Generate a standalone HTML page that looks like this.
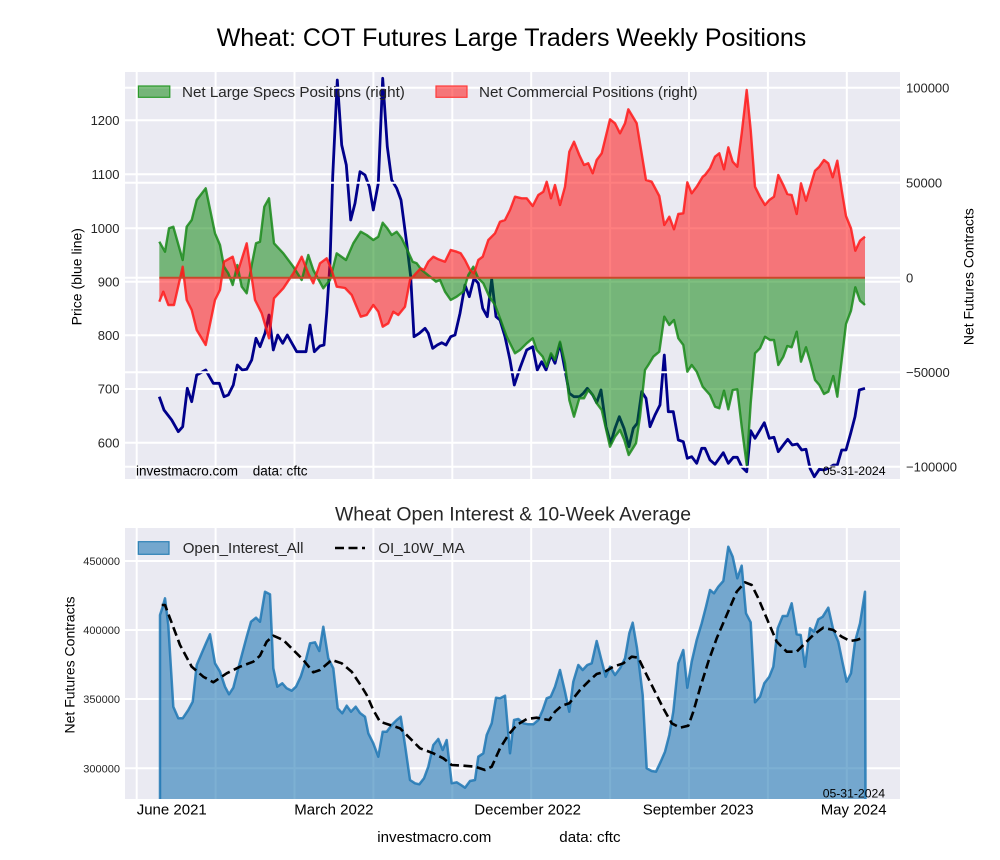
<!DOCTYPE html>
<html><head><meta charset="utf-8"><style>
html,body{margin:0;padding:0;background:#fff;}
svg{display:block;font-family:"Liberation Sans",Arial,sans-serif;}
</style></head><body>
<svg width="1000" height="860" viewBox="0 0 1000 860" xmlns="http://www.w3.org/2000/svg">
<defs>
<clipPath id="c1"><rect x="125" y="72" width="775" height="407"/></clipPath>
<clipPath id="c2"><rect x="125" y="528" width="775" height="271"/></clipPath>
</defs>
<rect width="1000" height="860" fill="#fff"/>
<text x="511.5" y="46" font-size="25" text-anchor="middle" fill="#000">Wheat: COT Futures Large Traders Weekly Positions</text>

<!-- TOP AXES -->
<rect x="125" y="72" width="775" height="407" fill="#EAEAF2"/>
<g stroke="#fff" stroke-width="2">
<line x1="136.7" y1="72" x2="136.7" y2="479"/><line x1="215.6" y1="72" x2="215.6" y2="479"/><line x1="294.5" y1="72" x2="294.5" y2="479"/><line x1="373.4" y1="72" x2="373.4" y2="479"/><line x1="452.3" y1="72" x2="452.3" y2="479"/><line x1="531.2" y1="72" x2="531.2" y2="479"/><line x1="610.1" y1="72" x2="610.1" y2="479"/><line x1="689" y1="72" x2="689" y2="479"/><line x1="767.9" y1="72" x2="767.9" y2="479"/><line x1="846.8" y1="72" x2="846.8" y2="479"/>
<line x1="125" y1="120.3" x2="900" y2="120.3"/><line x1="125" y1="174.3" x2="900" y2="174.3"/><line x1="125" y1="228.3" x2="900" y2="228.3"/><line x1="125" y1="281.7" x2="900" y2="281.7"/><line x1="125" y1="335.3" x2="900" y2="335.3"/><line x1="125" y1="389" x2="900" y2="389"/><line x1="125" y1="442.7" x2="900" y2="442.7"/>
</g>
<g clip-path="url(#c1)">
<polyline fill="none" stroke="#00008B" stroke-width="2.8" stroke-linejoin="round" points="159.3,396.7 164,410 171.7,420 178.3,431.7 182.7,426.7 187.3,388.3 191.7,401.7 196.7,375 205.7,370 213.3,383.3 219.3,383.3 224,396.7 228.3,395 233.3,385 237.3,365 242.3,370 246.7,369.3 251.7,360 256,338.3 260,346.7 265,333.3 269,315 273.3,350 277.7,335 282.7,343.3 287.3,335 296.7,351.7 306,351.7 310,325 314.3,351.7 320,346 324,345 326.7,313.3 330,263.3 332.7,176.7 337.3,80 341.7,145 346.3,165 350.7,220 355,203.3 360,171.7 365,175 369.3,186.7 373.3,210 378.3,183.3 382.7,78.3 387.3,146.7 391.7,180 396.7,188.3 401,200 406.7,243.3 410.7,276.7 414,336.7 419.3,333.3 425,328.3 428.3,333.3 432.7,348.3 437.3,345 441.7,342.7 446,345 450.7,336.7 455,335 460,313.3 465,285 469.3,296.7 474,278.3 478.3,283.3 482.7,308.3 487.3,316.7 491.7,279.3 496,316.7 500,320 505,336.7 510,360 514.3,385 520,368 526.7,350 532.7,346.7 537.3,370 541.7,361.7 546,370 551,355 555,363.3 560,343.3 565,370 569.3,393.3 574,396.7 579.3,396.7 583.3,393.3 587.3,388.3 592.7,395 596.7,402.7 601,390 606,426.7 610.7,443.3 615,428.3 619.3,416.7 624,428.3 629,446.7 633.3,428.3 637.3,423.3 641.7,391.7 646,398.3 650,426.7 655,415 660,405 664.3,355 668.3,411.7 673.3,411.7 678.3,440 683.3,441.7 687.3,458.3 691.7,456.7 696.7,463.3 701.7,448.3 705,448.3 710,460 715,464.3 723.3,452.7 728.3,463.3 733.3,457.3 737.3,457.3 741.7,466.7 746.7,471.7 750.7,430.7 755,438.3 760,430 764.3,422.7 769.3,438.3 774,437.3 778.3,451.7 783.3,445 787.7,439.3 792.3,445 797.3,444 801.7,450 806,449.3 810,468.3 814.3,476.7 819.3,469.3 824,470 828.3,468.3 833.3,465 837.3,465 841.7,450 846,450 850.7,433.3 855,416.7 859.3,390 865,388.3"/>
</g>
<g stroke="#fff" stroke-width="2">
<line x1="125" y1="87.7" x2="900" y2="87.7"/><line x1="125" y1="182.7" x2="900" y2="182.7"/><line x1="125" y1="277.7" x2="900" y2="277.7"/><line x1="125" y1="372.3" x2="900" y2="372.3"/><line x1="125" y1="466.7" x2="900" y2="466.7"/>
</g>
<g clip-path="url(#c1)">
<polygon fill="#008000" fill-opacity="0.5" points="159.3,277.7 159.3,241.7 165,251.7 169,228.3 173.3,226.7 182.7,260 186.7,226.7 191.7,220 196.7,200 205.7,188.3 215,233.3 220,245 224,266.7 228.3,273.3 232.7,285 237.3,265 241.7,286.7 246.7,293.3 251.7,265 256,243.3 260,241.7 264.3,206.7 269,198.3 274,243.3 283.3,253.3 293.3,266.7 301.7,280 308.3,255 313.3,270 323.3,288.3 330,280 336.7,253.3 346,260 353.3,243.3 360.7,231.7 366.7,235 373.3,240 378.3,236.7 382.7,222.7 387.3,228.3 391.7,235 396.7,231.7 401.7,238.3 407.3,250 412.7,261.7 416.7,263.3 421.7,270 430,276.7 436,281.7 440,280 445,291.7 450.7,300 456.7,296.7 463.3,291.7 468.3,275 473.3,266.7 478.3,278.3 483.3,283.3 489.3,296.7 495,305 500,318.3 506.7,336.7 515,353.3 520,350 526.7,343.3 532.7,338.3 536.7,350 542.7,356.7 546.7,366.7 551,353.3 555,360 560,341.7 565,363.3 569.3,400 574,416.7 579.3,398.3 584,398.3 588.3,390 592.7,395 596.7,403.3 601.7,410 610,446.7 615,436.7 620,430 624.3,440 628.7,455 636,443.3 640,416.7 645,370 648.3,365 653.3,356.7 659.3,351.7 664.3,316.7 669.3,325 674,320 678.3,338.3 683.3,345 687.3,371.7 691.7,365 696.7,371.7 702.7,386.7 710,395 715,406.7 719.3,408.3 724,390.7 728.3,409.3 732.7,390 737.3,389.3 741.7,426.7 746.7,465 750.7,403.3 755,353.3 760,348.3 765,336.7 770,340 774,340 778.3,365 783.3,356.7 787.3,346 791.7,347.3 796.7,331.7 801,361.7 806,347.3 810.7,363.3 815,380 819.3,385 824,394 828.3,391.7 833.3,376 837.3,396.7 841.7,360 846,324 851,310.7 855.3,287.3 860,300.7 865,305 865,277.7"/>
<polygon fill="#ff0000" fill-opacity="0.5" points="159.3,277.7 159.3,301.7 163.3,291.7 168.3,305 174,305 182.7,266.7 186.7,300 191.7,310 196.7,330 205.7,345 215,300 220,290 224,261.7 232.7,256.7 237.3,273.3 246.7,243.3 255,300 261.7,313.3 269,338.3 274,298.3 283.3,288.3 293.3,273.3 301.7,256.7 308.3,273.3 313.3,283.3 320,263.3 326.7,258.3 331.7,270 336.7,286.7 345,288 351.7,295 360.7,316.7 366.7,315 373.3,305 378.3,311.7 382.7,326.7 388.3,323.3 393.3,311.7 398.3,315 405,306.7 410,280 416,273.3 420.7,268.3 424,270 428.3,261.7 433.3,256.7 438.3,259.3 445,261.7 450.7,250 456.7,251.7 460.7,253.3 465,260 470,270 474,273.3 478.3,260 482.7,256.7 488.3,240 495,233.3 500,221.7 505,220 510,210 515,196.7 521.7,198.3 526.7,198.3 532.7,206 538.3,195 543.3,191.7 546.7,181.7 551,198.3 555,185 560,205 565,186.7 569.3,151.7 574,141.7 579.3,155 584,165 588.3,163.3 592.7,173.3 596.7,160 601.7,153.3 610,119.3 615,123.3 620,133.3 625,123.3 628.3,109.3 636.7,123.3 646,180 651.7,181.7 659.3,196 664.3,225 669.3,216.7 674,229.3 678.3,214 683.3,213.3 687.3,182.3 691.7,193.3 696.7,186.7 702.7,176.7 705,175 710,168.3 715,156.7 719.3,153.3 724,169.3 728.3,147.3 732.7,161.7 737.3,166.7 741.7,133.3 746.7,90 750.7,130 755,186.7 760,196.7 765,205 769.3,200 774,196.7 778.3,175 783.3,185 787.3,194 791.7,195 796.7,214 801,183.3 806,200.7 810.7,185 815,170.7 819.3,166.7 824,160 828.3,163.3 832.7,177.3 837.3,160.7 841.7,190 846,216 851,228.3 855.3,250.7 860,240.7 865,236.7 865,277.7"/>
<polyline fill="none" stroke="#1a8a1a" stroke-opacity="0.85" stroke-width="2.4" stroke-linejoin="round" points="159.3,241.7 165,251.7 169,228.3 173.3,226.7 182.7,260 186.7,226.7 191.7,220 196.7,200 205.7,188.3 215,233.3 220,245 224,266.7 228.3,273.3 232.7,285 237.3,265 241.7,286.7 246.7,293.3 251.7,265 256,243.3 260,241.7 264.3,206.7 269,198.3 274,243.3 283.3,253.3 293.3,266.7 301.7,280 308.3,255 313.3,270 323.3,288.3 330,280 336.7,253.3 346,260 353.3,243.3 360.7,231.7 366.7,235 373.3,240 378.3,236.7 382.7,222.7 387.3,228.3 391.7,235 396.7,231.7 401.7,238.3 407.3,250 412.7,261.7 416.7,263.3 421.7,270 430,276.7 436,281.7 440,280 445,291.7 450.7,300 456.7,296.7 463.3,291.7 468.3,275 473.3,266.7 478.3,278.3 483.3,283.3 489.3,296.7 495,305 500,318.3 506.7,336.7 515,353.3 520,350 526.7,343.3 532.7,338.3 536.7,350 542.7,356.7 546.7,366.7 551,353.3 555,360 560,341.7 565,363.3 569.3,400 574,416.7 579.3,398.3 584,398.3 588.3,390 592.7,395 596.7,403.3 601.7,410 610,446.7 615,436.7 620,430 624.3,440 628.7,455 636,443.3 640,416.7 645,370 648.3,365 653.3,356.7 659.3,351.7 664.3,316.7 669.3,325 674,320 678.3,338.3 683.3,345 687.3,371.7 691.7,365 696.7,371.7 702.7,386.7 710,395 715,406.7 719.3,408.3 724,390.7 728.3,409.3 732.7,390 737.3,389.3 741.7,426.7 746.7,465 750.7,403.3 755,353.3 760,348.3 765,336.7 770,340 774,340 778.3,365 783.3,356.7 787.3,346 791.7,347.3 796.7,331.7 801,361.7 806,347.3 810.7,363.3 815,380 819.3,385 824,394 828.3,391.7 833.3,376 837.3,396.7 841.7,360 846,324 851,310.7 855.3,287.3 860,300.7 865,305"/>
<polyline fill="none" stroke="#ff1a1a" stroke-opacity="0.85" stroke-width="2.4" stroke-linejoin="round" points="159.3,301.7 163.3,291.7 168.3,305 174,305 182.7,266.7 186.7,300 191.7,310 196.7,330 205.7,345 215,300 220,290 224,261.7 232.7,256.7 237.3,273.3 246.7,243.3 255,300 261.7,313.3 269,338.3 274,298.3 283.3,288.3 293.3,273.3 301.7,256.7 308.3,273.3 313.3,283.3 320,263.3 326.7,258.3 331.7,270 336.7,286.7 345,288 351.7,295 360.7,316.7 366.7,315 373.3,305 378.3,311.7 382.7,326.7 388.3,323.3 393.3,311.7 398.3,315 405,306.7 410,280 416,273.3 420.7,268.3 424,270 428.3,261.7 433.3,256.7 438.3,259.3 445,261.7 450.7,250 456.7,251.7 460.7,253.3 465,260 470,270 474,273.3 478.3,260 482.7,256.7 488.3,240 495,233.3 500,221.7 505,220 510,210 515,196.7 521.7,198.3 526.7,198.3 532.7,206 538.3,195 543.3,191.7 546.7,181.7 551,198.3 555,185 560,205 565,186.7 569.3,151.7 574,141.7 579.3,155 584,165 588.3,163.3 592.7,173.3 596.7,160 601.7,153.3 610,119.3 615,123.3 620,133.3 625,123.3 628.3,109.3 636.7,123.3 646,180 651.7,181.7 659.3,196 664.3,225 669.3,216.7 674,229.3 678.3,214 683.3,213.3 687.3,182.3 691.7,193.3 696.7,186.7 702.7,176.7 705,175 710,168.3 715,156.7 719.3,153.3 724,169.3 728.3,147.3 732.7,161.7 737.3,166.7 741.7,133.3 746.7,90 750.7,130 755,186.7 760,196.7 765,205 769.3,200 774,196.7 778.3,175 783.3,185 787.3,194 791.7,195 796.7,214 801,183.3 806,200.7 810.7,185 815,170.7 819.3,166.7 824,160 828.3,163.3 832.7,177.3 837.3,160.7 841.7,190 846,216 851,228.3 855.3,250.7 860,240.7 865,236.7"/>
<line x1="159.3" y1="277.7" x2="865" y2="277.7" stroke="#cc472b" stroke-width="2"/>
</g>
<!-- top legend -->
<rect x="138.4" y="86" width="31.4" height="11.3" fill="#008000" fill-opacity="0.5" stroke="#2a9a2a" stroke-width="1.2"/>
<text x="182" y="97" font-size="15.2" fill="#262626">Net Large Specs Positions (right)</text>
<rect x="436" y="86" width="31" height="11.3" fill="#ff0000" fill-opacity="0.5" stroke="#ff3b3b" stroke-width="1.2"/>
<text x="479" y="97" font-size="15.2" fill="#262626">Net Commercial Positions (right)</text>
<!-- top axis labels -->
<g font-size="13" fill="#262626" text-anchor="end">
<text x="119.5" y="124.9">1200</text><text x="119.5" y="178.9">1100</text><text x="119.5" y="232.9">1000</text><text x="119.5" y="286.3">900</text><text x="119.5" y="339.9">800</text><text x="119.5" y="393.6">700</text><text x="119.5" y="447.3">600</text>
</g>
<g font-size="13" fill="#262626">
<text x="906" y="92.3">100000</text><text x="906" y="187.3">50000</text><text x="906" y="282.3">0</text><text x="906" y="376.9">−50000</text><text x="906" y="471.3">−100000</text>
</g>
<text transform="translate(76.7,276.7) rotate(-90)" y="5" font-size="14" fill="#000" text-anchor="middle">Price (blue line)</text>
<text transform="translate(968.3,276.7) rotate(-90)" y="5" font-size="14" fill="#000" text-anchor="middle">Net Futures Contracts</text>
<text x="136" y="475.5" font-size="13.5" fill="#000">investmacro.com</text>
<text x="252.7" y="475.5" font-size="13.5" fill="#000">data: cftc</text>
<text x="822.7" y="475.2" font-size="12.3" fill="#000">05-31-2024</text>

<!-- BOTTOM AXES -->
<text x="513" y="520.3" font-size="19.4" text-anchor="middle" fill="#262626">Wheat Open Interest &amp; 10-Week Average</text>
<rect x="125" y="528" width="775" height="271" fill="#EAEAF2"/>
<g stroke="#fff" stroke-width="2">
<line x1="136.7" y1="528" x2="136.7" y2="799"/><line x1="215.6" y1="528" x2="215.6" y2="799"/><line x1="294.5" y1="528" x2="294.5" y2="799"/><line x1="373.4" y1="528" x2="373.4" y2="799"/><line x1="452.3" y1="528" x2="452.3" y2="799"/><line x1="531.2" y1="528" x2="531.2" y2="799"/><line x1="610.1" y1="528" x2="610.1" y2="799"/><line x1="689" y1="528" x2="689" y2="799"/><line x1="767.9" y1="528" x2="767.9" y2="799"/><line x1="846.8" y1="528" x2="846.8" y2="799"/>
<line x1="125" y1="561" x2="900" y2="561"/><line x1="125" y1="630" x2="900" y2="630"/><line x1="125" y1="699" x2="900" y2="699"/><line x1="125" y1="768.3" x2="900" y2="768.3"/>
</g>
<g clip-path="url(#c2)">
<polygon fill="#1f77b4" fill-opacity="0.58" points="160,800 160,615 162.7,606.7 165,598.3 168.3,625 173.3,706.7 178.3,718.3 182.7,718.3 188.3,710 192.7,701.7 196.7,665 201.7,653.3 206,643.3 210,634.3 215,663.3 220,671.7 225,686.7 229,694.3 233.3,687.7 238.3,668.3 242.7,651.7 246.7,636.7 251,621.7 256,617.7 260,621.7 265,591.7 270,594.3 273.3,668.3 277.3,686.7 282.3,683.3 286.7,688.3 291.7,690.7 296,686.7 300.7,676.7 305,663.3 310,643.3 315,642.3 319.3,651 323.3,626.7 328.3,658.3 333.3,668.3 337.7,708.3 342.3,713.3 346.7,705.7 351,711.7 355.7,706.7 360,713 365,716.7 368.3,733.3 373.3,743.3 378.3,756.7 382.7,731.7 386.7,731.7 391.7,725 396.7,720 400.7,716.7 405,745 410,780 415,783.3 419.3,784.3 424,778.3 428.3,766.7 433.3,745 438.3,739 442.7,750 446.7,740 451.7,783.3 456.7,782.3 461,785 465,787.7 470,781 475,780 478.3,756.7 483.3,753.3 486.7,735 491.7,723.3 496,697.7 500,698.3 505,695.7 510,753.3 514,720 518.3,719 523.3,723.3 528.3,724.3 533.3,724.3 538.3,720 542.7,710 546.7,698.3 550.7,696.7 555,686.7 560,670 565,691.7 569.3,711.7 573.3,681.7 578.3,665 582.7,670 587.3,665 591.7,663.3 596.7,641 601,658.3 605.7,676.7 610,666.7 615,675 620,668.3 625,658.3 629.3,633.3 632.7,622.7 637,648 642.7,695 646.7,768.3 651.7,771 656,771.7 660.7,761.7 665,751.7 669.3,735 673.3,711.7 678.3,663.3 683.3,650 687.3,687.7 691.7,661.7 696.7,640 701.7,623.3 706,606.7 710,590 714,593.3 718.3,586.7 723.3,581 728.3,546.7 732.7,556.7 737.3,578.3 741.7,565.7 746,613.3 750.7,622.3 755,702.3 760,696.7 764.3,683.3 769.3,676.7 773.3,666.7 777.7,628.3 782.7,616 787.3,616 791.7,603.3 796.7,634.3 800.7,635 805,666.7 810,628.3 814,631.7 818.3,619.3 822.7,616.7 828.3,607.7 833.3,630 838.3,641.7 842.7,663.3 846.7,681.7 851,673.3 855,641.7 860,623.3 865,591.7 865.5,800"/>
<polyline fill="none" stroke="#1f77b4" stroke-opacity="0.85" stroke-width="2.5" stroke-linejoin="round" points="160,800 160,615 162.7,606.7 165,598.3 168.3,625 173.3,706.7 178.3,718.3 182.7,718.3 188.3,710 192.7,701.7 196.7,665 201.7,653.3 206,643.3 210,634.3 215,663.3 220,671.7 225,686.7 229,694.3 233.3,687.7 238.3,668.3 242.7,651.7 246.7,636.7 251,621.7 256,617.7 260,621.7 265,591.7 270,594.3 273.3,668.3 277.3,686.7 282.3,683.3 286.7,688.3 291.7,690.7 296,686.7 300.7,676.7 305,663.3 310,643.3 315,642.3 319.3,651 323.3,626.7 328.3,658.3 333.3,668.3 337.7,708.3 342.3,713.3 346.7,705.7 351,711.7 355.7,706.7 360,713 365,716.7 368.3,733.3 373.3,743.3 378.3,756.7 382.7,731.7 386.7,731.7 391.7,725 396.7,720 400.7,716.7 405,745 410,780 415,783.3 419.3,784.3 424,778.3 428.3,766.7 433.3,745 438.3,739 442.7,750 446.7,740 451.7,783.3 456.7,782.3 461,785 465,787.7 470,781 475,780 478.3,756.7 483.3,753.3 486.7,735 491.7,723.3 496,697.7 500,698.3 505,695.7 510,753.3 514,720 518.3,719 523.3,723.3 528.3,724.3 533.3,724.3 538.3,720 542.7,710 546.7,698.3 550.7,696.7 555,686.7 560,670 565,691.7 569.3,711.7 573.3,681.7 578.3,665 582.7,670 587.3,665 591.7,663.3 596.7,641 601,658.3 605.7,676.7 610,666.7 615,675 620,668.3 625,658.3 629.3,633.3 632.7,622.7 637,648 642.7,695 646.7,768.3 651.7,771 656,771.7 660.7,761.7 665,751.7 669.3,735 673.3,711.7 678.3,663.3 683.3,650 687.3,687.7 691.7,661.7 696.7,640 701.7,623.3 706,606.7 710,590 714,593.3 718.3,586.7 723.3,581 728.3,546.7 732.7,556.7 737.3,578.3 741.7,565.7 746,613.3 750.7,622.3 755,702.3 760,696.7 764.3,683.3 769.3,676.7 773.3,666.7 777.7,628.3 782.7,616 787.3,616 791.7,603.3 796.7,634.3 800.7,635 805,666.7 810,628.3 814,631.7 818.3,619.3 822.7,616.7 828.3,607.7 833.3,630 838.3,641.7 842.7,663.3 846.7,681.7 851,673.3 855,641.7 860,623.3 865,591.7 865.5,800"/>
<polyline fill="none" stroke="#000" stroke-width="2.6" stroke-dasharray="9,4.5" stroke-linejoin="round" points="161.7,605 165,605 170,618.3 180,645 191.7,666.7 203.3,676.7 213.3,682.3 226.7,673.3 240,666.7 253.3,661.7 260,655.7 266.7,641.7 273.3,635.7 283.3,640 293.3,650 303.3,660 313.3,672.3 320,670 331.7,660 341.7,663.3 351.7,671.7 361.7,686.7 366.7,695 373.3,710 380,721.7 390,725 400,728.3 410,738.3 420,748.3 433.3,753.3 443.3,758.3 451.7,765 463.3,765.7 475,766.7 485,770 491.7,766.7 500,748.3 508.3,735 516.7,725 526.7,719 536.7,717.7 542.7,719 549.3,720 555,711.7 561.7,705.7 569.3,703.3 580,690 590,680 596.7,674 605,671.7 613.3,666.7 623.3,663.3 631.7,656.7 638.3,657.7 645,671.7 653.3,688.3 663.3,708.3 671.7,723.3 680,727.7 688.3,725.7 693.3,711.7 700,688.3 708.3,661.7 716.7,638.3 726.7,615 736.7,591.7 745,582.3 751.7,585 758.3,598.3 766.7,618.3 776.7,641.7 786.7,651.7 796.7,651.7 803.3,645 813.3,635 823.3,627.7 833.3,630 841.7,636.7 850,641 856.7,640 863.3,637.7"/>
</g>
<!-- bottom legend -->
<rect x="138.3" y="541.7" width="30.7" height="12.6" fill="#1f77b4" fill-opacity="0.58" stroke="#2b80b5" stroke-width="1.2"/>
<text x="182.7" y="553" font-size="15.1" fill="#262626">Open_Interest_All</text>
<line x1="335" y1="548" x2="365" y2="548" stroke="#000" stroke-width="2.6" stroke-dasharray="9,4.5"/>
<text x="378.3" y="553" font-size="15.1" fill="#262626">OI_10W_MA</text>
<g font-size="11" fill="#262626" text-anchor="end">
<text x="120" y="565">450000</text><text x="120" y="634">400000</text><text x="120" y="703">350000</text><text x="120" y="772.3">300000</text>
</g>
<text transform="translate(69.3,665) rotate(-90)" y="5" font-size="14" fill="#000" text-anchor="middle">Net Futures Contracts</text>
<text x="822.7" y="797.6" font-size="12.2" fill="#000">05-31-2024</text>
<g font-size="15" fill="#000">
<text x="136.7" y="814.5">June 2021</text><text x="294.3" y="814.5">March 2022</text><text x="474.3" y="814.5">December 2022</text><text x="642.7" y="814.5">September 2023</text><text x="820.7" y="814.5">May 2024</text>
</g>
<text x="377.3" y="842" font-size="15.1" fill="#000">investmacro.com</text>
<text x="559.3" y="842" font-size="15.1" fill="#000">data: cftc</text>
</svg>
</body></html>
